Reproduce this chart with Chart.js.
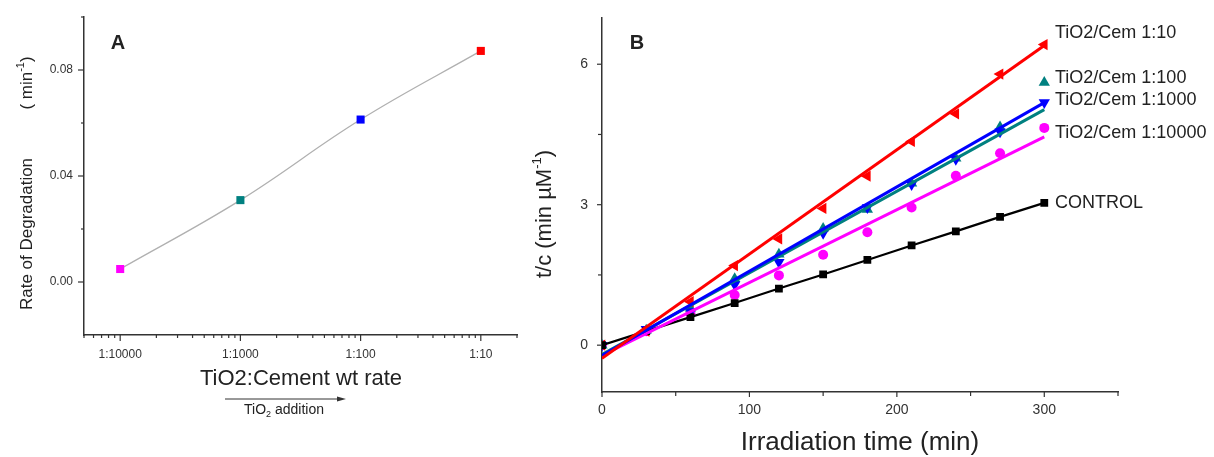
<!DOCTYPE html>
<html>
<head>
<meta charset="utf-8">
<script src="https://cdn.jsdelivr.net/npm/chart.js@4.4.0/dist/chart.umd.min.js"></script>
<style>
  html, body { margin: 0; padding: 0; background: #fff; }
  #wrap { position: relative; width: 1214px; height: 457px; overflow: hidden; }
  #chartA { position: absolute; left: 0; top: 0; }
  #chartB { position: absolute; left: 530px; top: 0; }
</style>
</head>
<body>
<div id="wrap">
  <canvas id="chartA" width="530" height="457"></canvas>
  <canvas id="chartB" width="684" height="457"></canvas>
</div>
<script>
// Panel A : vitesse de dégradation selon le rapport TiO2:ciment
const ratioLabels = ['1:10000', '1:1000', '1:100', '1:10'];
const ratioValues = [0.0001, 0.001, 0.01, 0.1];
const degradationRates = [0.0049, 0.0309, 0.0613, 0.0872];
const ratioColors = ['#ff00ff', '#008080', '#0000ff', '#ff0000'];
const rateTicks = [0, 0.02, 0.04, 0.06, 0.08, 0.10];
const rateLabelled = [0, 0.04, 0.08];

// Panel B : t/c en fonction du temps d'irradiation
const times = [0, 30, 60, 90, 120, 150, 180, 210, 240, 270, 300];
const control = [0, 0.30, 0.60, 0.90, 1.21, 1.51, 1.82, 2.13, 2.43, 2.74, 3.04];
const cem10 = [0, 0.30, 0.93, 1.70, 2.27, 2.92, 3.61, 4.35, 4.94, 5.79, 6.42];
const cem100 = [0, 0.32, 0.79, 1.42, 1.94, 2.49, 2.90, 3.46, 3.99, 4.66, 5.61];
const cem1000 = [0, 0.34, 0.72, 1.29, 1.77, 2.39, 2.94, 3.43, 3.97, 4.56, 5.18];
const cem10000 = [0, 0.30, 0.68, 1.07, 1.49, 1.93, 2.41, 2.94, 3.62, 4.10, 4.64];
// droites d'ajustement (t = 0 et t = 300)
const fitTimes = [0, 300];
const fit10 = [-0.28, 6.40];
const fit100 = [-0.20, 5.03];
const fit1000 = [-0.22, 5.18];
const fit10000 = [-0.22, 4.45];
const seriesNames = ['TiO2/Cem 1:10', 'TiO2/Cem 1:100', 'TiO2/Cem 1:1000', 'TiO2/Cem 1:10000', 'CONTROL'];
const timeTicks = [0, 50, 100, 150, 200, 250, 300, 350];
const timeLabelled = [0, 100, 200, 300];
const tcTicks = [0, 1.5, 3, 4.5, 6];
const tcLabelled = [0, 3, 6];

const FONT = '"Liberation Sans", Arial, Helvetica, sans-serif';
const AXIS = '#333';
const TEXT = '#222';
Chart.defaults.font.family = FONT;

const toXY = (xs, ys) => xs.map((x, i) => ({ x: x, y: ys[i] }));
const near = (list, v) => list.some(u => Math.abs(u - v) < 1e-9);

// texte avec exposant / indice, centré en (x, y), éventuellement tourné
function richText(ctx, parts, x, y, rot) {
  ctx.save();
  ctx.translate(x, y);
  if (rot) ctx.rotate(rot);
  ctx.fillStyle = TEXT;
  ctx.textBaseline = 'middle';
  ctx.textAlign = 'left';
  let total = 0;
  parts.forEach(p => {
    ctx.font = (p.bold ? 'bold ' : '') + p.size + 'px ' + FONT;
    p.w = ctx.measureText(p.t).width;
    total += p.w;
  });
  let cx = -total / 2;
  parts.forEach(p => {
    ctx.font = (p.bold ? 'bold ' : '') + p.size + 'px ' + FONT;
    ctx.fillText(p.t, cx, p.dy || 0);
    cx += p.w;
  });
  ctx.restore();
}

// petites graduations vers l'extérieur (majeures plus longues)
function drawTickMarks(chart, major, minor) {
  const ctx = chart.ctx;
  ctx.save();
  ctx.strokeStyle = AXIS;
  ctx.lineWidth = 1.2;
  Object.values(chart.scales).forEach(s => {
    s.ticks.forEach(t => {
      const p = s.getPixelForValue(t.value);
      const len = t.label ? major : minor;
      ctx.beginPath();
      if (s.axis === 'x') {
        ctx.moveTo(p, s.top);
        ctx.lineTo(p, s.top + len);
      } else {
        ctx.moveTo(s.right, p);
        ctx.lineTo(s.right - len, p);
      }
      ctx.stroke();
    });
  });
  ctx.restore();
}

const decorA = {
  id: 'decorA',
  afterDraw(chart) {
    const ctx = chart.ctx;
    drawTickMarks(chart, 6, 3);
    richText(ctx, [{ t: 'A', size: 20, bold: true }], 118, 43);
    richText(ctx, [{ t: 'Rate of Degradation', size: 17 }], 27, 234, -Math.PI / 2);
    richText(ctx, [{ t: '( min', size: 17 }, { t: '-1', size: 11, dy: -6 }, { t: ')', size: 17 }], 27, 83, -Math.PI / 2);
    richText(ctx, [{ t: 'TiO2:Cement wt rate', size: 22 }], 301, 379);
    // flèche "ajout de TiO2"
    ctx.save();
    ctx.strokeStyle = '#333';
    ctx.fillStyle = '#333';
    ctx.lineWidth = 1;
    ctx.beginPath();
    ctx.moveTo(225, 399);
    ctx.lineTo(340, 399);
    ctx.stroke();
    ctx.beginPath();
    ctx.moveTo(346, 399);
    ctx.lineTo(337, 396.5);
    ctx.lineTo(337, 401.5);
    ctx.closePath();
    ctx.fill();
    ctx.restore();
    richText(ctx, [{ t: 'TiO', size: 14 }, { t: '2', size: 9, dy: 5 }, { t: ' addition', size: 14 }], 284, 410);
  }
};

const decorB = {
  id: 'decorB',
  afterDraw(chart) {
    const ctx = chart.ctx;
    drawTickMarks(chart, 5, 4);
    richText(ctx, [{ t: 'B', size: 20, bold: true }], 107, 43);
    richText(ctx, [{ t: 't/c (min \u00b5M', size: 22 }, { t: '-1', size: 13, dy: -8 }, { t: ')', size: 22 }], 15, 214, -Math.PI / 2);
    richText(ctx, [{ t: 'Irradiation time (min)', size: 26 }], 330, 443);
    const labelY = [33, 78, 100, 133, 203];
    ctx.save();
    ctx.fillStyle = TEXT;
    ctx.font = '18px ' + FONT;
    ctx.textBaseline = 'middle';
    seriesNames.forEach((n, i) => ctx.fillText(n, 525, labelY[i]));
    ctx.restore();
  }
};

new Chart(document.getElementById('chartA'), {
  type: 'line',
  data: {
    datasets: [{
      data: toXY(ratioValues, degradationRates),
      borderColor: '#b0b0b0',
      borderWidth: 1.3,
      tension: 0.4,
      pointStyle: 'rect',
      pointRadius: 5.7,
      pointBackgroundColor: ratioColors,
      pointBorderColor: ratioColors,
      pointBorderWidth: 0
    }]
  },
  options: {
    responsive: false,
    animation: false,
    layout: { padding: { left: 0, right: 13, top: 17, bottom: 0 } },
    plugins: { legend: { display: false }, tooltip: { enabled: false } },
    scales: {
      x: {
        type: 'logarithmic',
        min: 5e-5,
        max: 0.2,
        afterBuildTicks: s => {
          const t = [];
          for (let e = -5; e <= -1; e++) {
            for (let m = 1; m <= 9; m++) {
              const v = m * Math.pow(10, e);
              if (v >= 5e-5 * 0.999 && v <= 0.2 * 1.001) t.push({ value: v });
            }
          }
          s.ticks = t;
        },
        afterFit: s => { s.height = 122; },
        grid: { display: false, drawTicks: true, tickLength: 6 },
        border: { display: true, color: AXIS, width: 1.5 },
        ticks: {
          autoSkip: false, maxRotation: 0, padding: 6, color: '#333', font: { size: 12 },
          callback: v => {
            const i = ratioValues.findIndex(r => Math.abs(r - v) / r < 1e-6);
            return i >= 0 ? ratioLabels[i] : '';
          }
        }
      },
      y: {
        min: -0.02,
        max: 0.10,
        afterBuildTicks: s => { s.ticks = rateTicks.map(v => ({ value: v })); },
        afterFit: s => { s.width = 84; },
        grid: { display: false, drawTicks: true, tickLength: 6 },
        border: { display: true, color: AXIS, width: 1.5 },
        ticks: {
          padding: 5, color: '#333', font: { size: 12 },
          callback: v => near(rateLabelled, v) ? v.toFixed(2) : ''
        }
      }
    }
  },
  plugins: [decorA]
});

const fitLine = (ys, color, order) => ({
  data: toXY(fitTimes, ys), showLine: true, borderColor: color, borderWidth: 3,
  pointRadius: 0, order: order
});
const marks = (ys, color, style, rot, r, order) => ({
  data: toXY(times, ys), showLine: false, pointStyle: style, rotation: rot, pointRadius: r,
  backgroundColor: color, borderColor: color, borderWidth: 0, order: order
});

new Chart(document.getElementById('chartB'), {
  type: 'scatter',
  data: {
    datasets: [
      fitLine(fit10, '#ff0000', 1),
      fitLine(fit1000, '#0000ff', 2),
      fitLine(fit100, '#008080', 3),
      fitLine(fit10000, '#ff00ff', 4),
      {
        data: toXY(times, control), showLine: true, borderColor: '#000', borderWidth: 2.2,
        pointStyle: 'rect', pointRadius: 5.5, backgroundColor: '#000', pointBorderWidth: 0, order: 5
      },
      marks(cem10, '#ff0000', 'triangle', 270, 6.5, 6),
      marks(cem1000, '#0000ff', 'triangle', 180, 6.5, 7),
      marks(cem100, '#008080', 'triangle', 0, 6.5, 8),
      marks(cem10000, '#ff00ff', 'circle', 0, 5, 9)
    ]
  },
  options: {
    responsive: false,
    animation: false,
    layout: { padding: { left: 0, right: 96, top: 13, bottom: 0 } },
    plugins: { legend: { display: false }, tooltip: { enabled: false } },
    scales: {
      x: {
        type: 'linear',
        min: 0,
        max: 350,
        afterBuildTicks: s => { s.ticks = timeTicks.map(v => ({ value: v })); },
        afterFit: s => { s.height = 65; },
        grid: { display: false, drawTicks: true, tickLength: 5 },
        border: { display: true, color: AXIS, width: 1.5 },
        ticks: {
          autoSkip: false, maxRotation: 0, padding: 5, color: '#333', font: { size: 14 },
          callback: v => near(timeLabelled, v) ? String(v) : ''
        }
      },
      y: {
        min: -1,
        max: 7,
        afterBuildTicks: s => { s.ticks = tcTicks.map(v => ({ value: v })); },
        afterFit: s => { s.width = 72; },
        grid: { display: false, drawTicks: true, tickLength: 5 },
        border: { display: true, color: AXIS, width: 1.5 },
        ticks: {
          padding: 9, color: '#333', font: { size: 14 },
          callback: v => near(tcLabelled, v) ? String(v) : ''
        }
      }
    }
  },
  plugins: [decorB]
});
</script>
</body>
</html>
